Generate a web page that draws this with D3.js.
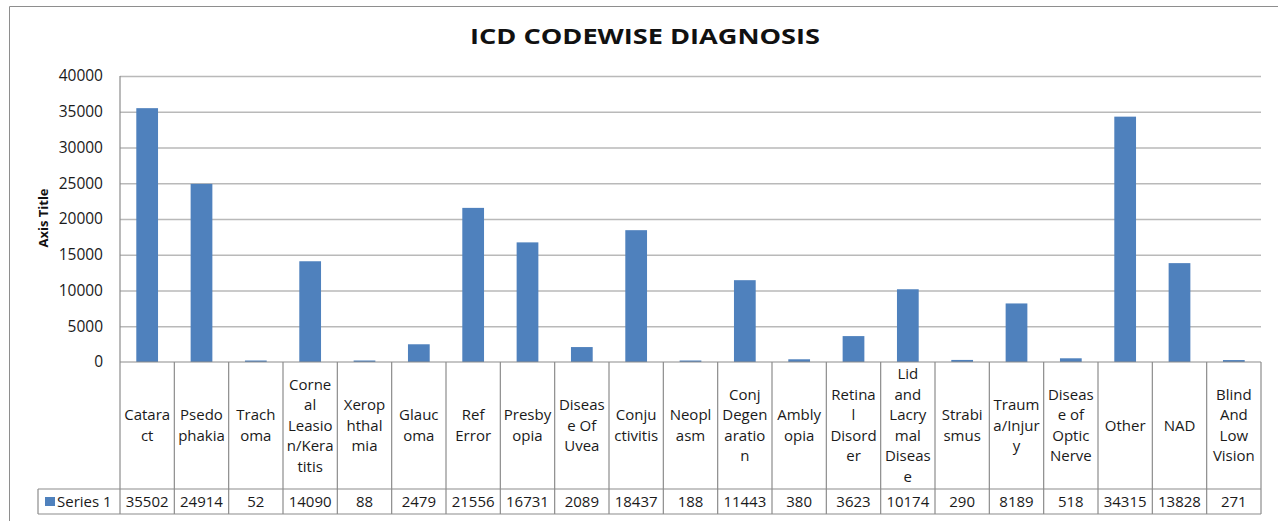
<!DOCTYPE html>
<html>
<head>
<meta charset="utf-8">
<script src="https://cdn.jsdelivr.net/npm/d3@7"></script>
<style>
  body { margin: 0; background: #fff; }
  svg { display: block; font-family: "Open Sans", sans-serif; }
</style>
</head>
<body>
<svg id="chart" width="1278" height="521"></svg>
<script>
// categories as Excel wrapped them inside the data table
var categories = [
  'Catarata', 'Psedophakia', 'Trachoma', 'Corneal Leasion/Keratitis', 'Xerophthalmia',
  'Glaucoma', 'Ref Error', 'Presbyopia', 'Disease Of Uvea', 'Conjuctivitis', 'Neoplasm',
  'Conj Degeneration', 'Amblyopia', 'Retinal Disorder', 'Lid and Lacrymal Disease',
  'Strabismus', 'Trauma/Injury', 'Disease of Optic Nerve', 'Other', 'NAD', 'Blind And Low Vision'
];
var categoryLines = [
  ['Catara', 'ct'], ['Psedo', 'phakia'], ['Trach', 'oma'], ['Corne', 'al', 'Leasio', 'n/Kera', 'titis'],
  ['Xerop', 'hthal', 'mia'], ['Glauc', 'oma'], ['Ref', 'Error'], ['Presby', 'opia'],
  ['Diseas', 'e Of', 'Uvea'], ['Conju', 'ctivitis'], ['Neopl', 'asm'], ['Conj', 'Degen', 'aratio', 'n'],
  ['Ambly', 'opia'], ['Retina', 'l', 'Disord', 'er'], ['Lid', 'and', 'Lacry', 'mal', 'Diseas', 'e'],
  ['Strabi', 'smus'], ['Traum', 'a/Injur', 'y'], ['Diseas', 'e of', 'Optic', 'Nerve'],
  ['Other'], ['NAD'], ['Blind', 'And', 'Low', 'Vision']
];
var series1 = [35502, 24914, 52, 14090, 88, 2479, 21556, 16731, 2089, 18437, 188,
               11443, 380, 3623, 10174, 290, 8189, 518, 34315, 13828, 271];
var yTicks = [0, 5000, 10000, 15000, 20000, 25000, 30000, 35000, 40000];
var seriesName = 'Series 1';
var chartTitle = 'ICD CODEWISE DIAGNOSIS';
var axisTitle = 'Axis Title';

var svg = d3.select('#chart');
var plot = { left: 120, right: 1261, top: 76, bottom: 362 };
var tableBottom = 514, rowSplit = 489, legendLeft = 38;
var barColor = '#4f81bd', lineColor = '#8c8c8c', gridColor = '#b9b9b9';

// outer chart frame (runs off the right and bottom edges like the screenshot)
svg.append('path')
  .attr('d', 'M9.5,530V6.5H1290')
  .attr('fill', 'none').attr('stroke', '#8e8e8e');

var x = d3.scaleBand()
  .domain(categories)
  .range([plot.left, plot.right])
  .paddingInner(0.6)
  .paddingOuter(0.3);
var step = x.step();

var y = d3.scaleLinear()
  .domain([0, 40000])
  .range([plot.bottom, plot.top]);

// gridlines + y labels through the axis generator
var yAxis = d3.axisLeft(y).tickValues(yTicks).tickSize(0).tickPadding(17).tickFormat(d3.format('d'));
var gy = svg.append('g').attr('transform', 'translate(' + plot.left + ',0)').call(yAxis);
gy.select('.domain').remove();
gy.selectAll('.tick text')
  .attr('font-family', '"Open Sans", sans-serif')
  .attr('font-size', 15.5).attr('fill', '#1a1a1a');
gy.selectAll('.tick').filter(function (d) { return d > 0; })
  .append('line')
  .attr('x2', plot.right - plot.left)
  .attr('stroke', gridColor).attr('stroke-width', 1.3);

// bars
svg.append('g').selectAll('rect')
  .data(series1)
  .join('rect')
  .attr('x', function (d, i) { return x(categories[i]); })
  .attr('width', x.bandwidth())
  .attr('y', function (d) { return Math.min(y(d), plot.bottom - 1.5); })
  .attr('height', function (d) { return Math.max(plot.bottom - y(d), 1.5); })
  .attr('fill', barColor);

// data table lines
var t = svg.append('g').attr('stroke', lineColor).attr('stroke-width', 1.2).attr('fill', 'none');
t.append('line').attr('x1', plot.left).attr('x2', plot.left).attr('y1', plot.top).attr('y2', tableBottom);
t.append('line').attr('x1', plot.left).attr('x2', plot.right).attr('y1', plot.bottom).attr('y2', plot.bottom);
t.append('line').attr('x1', legendLeft).attr('x2', plot.right).attr('y1', rowSplit).attr('y2', rowSplit);
t.append('line').attr('x1', legendLeft).attr('x2', plot.right).attr('y1', tableBottom).attr('y2', tableBottom);
t.append('line').attr('x1', legendLeft).attr('x2', legendLeft).attr('y1', rowSplit).attr('y2', tableBottom);
t.selectAll('line.sep')
  .data(categories)
  .join('line')
  .attr('class', 'sep')
  .attr('x1', function (d) { return x(d) - x.bandwidth() * 0.75 + step; })
  .attr('x2', function (d) { return x(d) - x.bandwidth() * 0.75 + step; })
  .attr('y1', plot.bottom).attr('y2', tableBottom);

// category labels, vertically centred in the header row
var lineH = 20.5;
var cy = (plot.bottom + rowSplit) / 2;
svg.append('g').selectAll('text')
  .data(categories)
  .join('text')
  .attr('text-anchor', 'middle')
  .attr('font-size', 15).attr('fill', '#1a1a1a')
  .each(function (d, i) {
    var lines = categoryLines[i];
    var cx = x(d) + x.bandwidth() / 2;
    var y0 = cy - (lines.length - 1) * lineH / 2 + 5;
    d3.select(this).selectAll('tspan')
      .data(lines)
      .join('tspan')
      .attr('x', cx)
      .attr('y', function (l, k) { return y0 + k * lineH; })
      .text(function (l) { return l; });
  });

// values row
svg.append('g').selectAll('text')
  .data(series1)
  .join('text')
  .attr('x', function (d, i) { return x(categories[i]) + x.bandwidth() / 2; })
  .attr('y', 507)
  .attr('text-anchor', 'middle')
  .attr('font-size', 15).attr('fill', '#1a1a1a')
  .text(function (d) { return d; });

// legend key
svg.append('rect').attr('x', 45).attr('y', 497).attr('width', 10).attr('height', 9).attr('fill', barColor);
svg.append('text').attr('x', 57).attr('y', 507).attr('font-size', 15).attr('fill', '#1a1a1a').text(seriesName);

// titles (the screenshot is stretched sideways, so the title gets a fixed length)
svg.append('text')
  .attr('x', 645).attr('y', 44)
  .attr('text-anchor', 'middle')
  .attr('font-size', 21).attr('font-weight', 'bold').attr('fill', '#111')
  .attr('textLength', 350).attr('lengthAdjust', 'spacingAndGlyphs')
  .text(chartTitle);

svg.append('text')
  .attr('transform', 'translate(48,218) rotate(-90)')
  .attr('text-anchor', 'middle')
  .attr('font-size', 13).attr('font-weight', 'bold').attr('fill', '#111')
  .text(axisTitle);
</script>
</body>
</html>
